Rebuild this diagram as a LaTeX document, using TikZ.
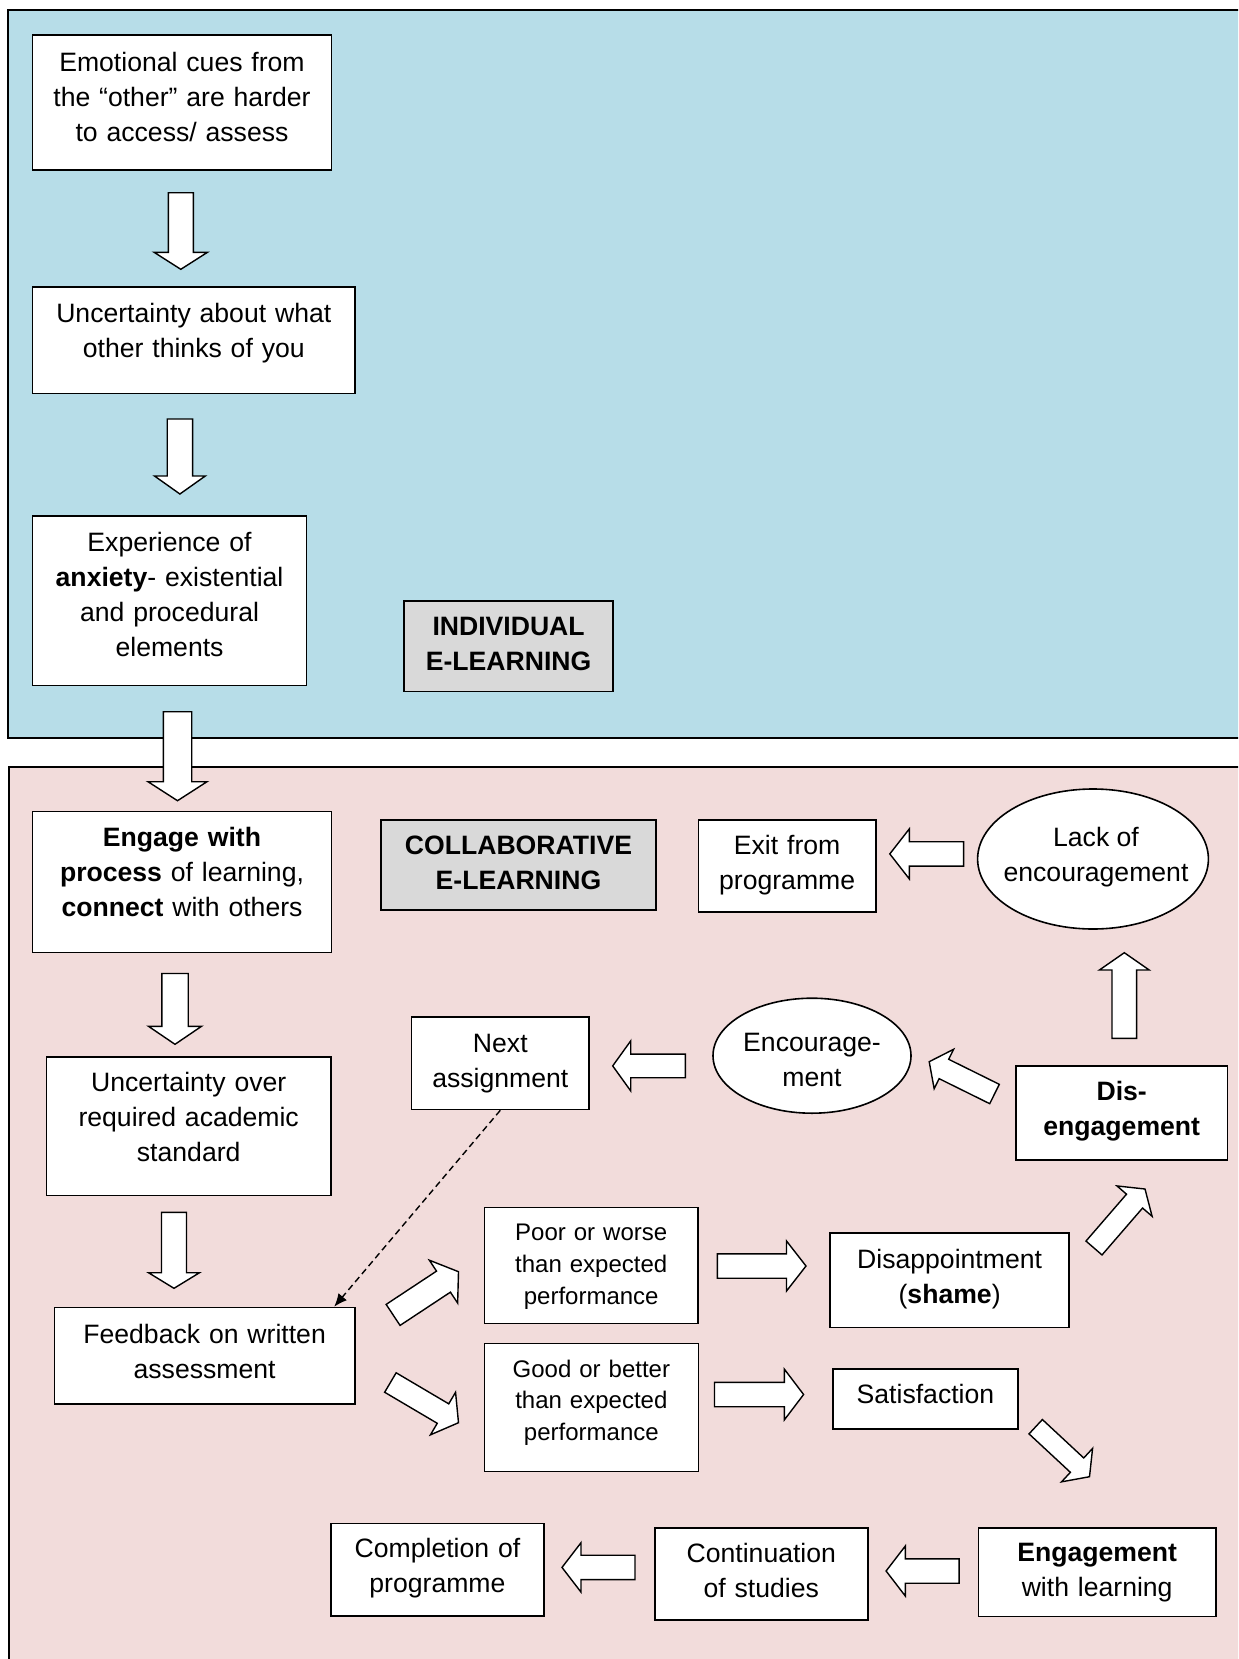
\documentclass[tikz,border=0pt]{standalone}
\usepackage{fontspec}
\setmainfont{Liberation Sans}
\usetikzlibrary{calc,shapes.geometric,arrows.meta}

\definecolor{panelBlue}{RGB}{183,221,232}
\definecolor{panelPink}{RGB}{242,220,219}
\definecolor{tagGray}{RGB}{217,217,217}

\newcommand{\bodyfont}{\fontsize{13.3}{17.5}\selectfont}
\newcommand{\smallbodyfont}{\fontsize{12}{15.9}\selectfont}

\tikzset{
  panel/.style={draw=black, line width=0.9pt},
  flowbox/.style={draw=black, fill=white, line width=0.8pt, inner sep=0pt,
    anchor=north west, align=center, font=\bodyfont},
  tagbox/.style={flowbox, fill=tagGray, font=\bodyfont\bfseries},
  ovalbox/.style={ellipse, draw=black, fill=white, line width=0.8pt, inner sep=0pt},
  ovaltext/.style={inner sep=0pt, align=center, font=\bodyfont},
  barrow/.style={draw=black, fill=white, line width=0.7pt, line join=miter},
  dashlink/.style={draw=black, line width=0.7pt, dash pattern=on 3.2pt off 2pt,
    -{Latex[length=6.5pt,width=5.5pt]}}
}

% box with its top-left and bottom-right corners in px, text hung from the top
% #1 options, #2 name, #3-#6 corners, #7 first-baseline drop (px), #8 text
\newcommand{\putbox}[8]{%
  \pgfmathsetmacro\bxw{(#5-#3)*0.5}%
  \pgfmathsetmacro\bxh{(#6-#4)*0.5}%
  \pgfmathsetmacro\bxt{#7*0.5}%
  \pgfmathsetmacro\bxd{\bxh-\bxt}%
  \node[flowbox, text width=\bxw pt, text height=\bxt pt, text depth=\bxd pt, #1]
    (#2) at (#3,#4) {#8};%
}

% hollow block arrow from a tail coordinate to a tip coordinate
% #3 shaft half-width, #4 head half-width, #5 head length (px)
\newcommand{\blockarrow}[5]{%
  \pgfmathsetmacro\bsw{#3*0.5}%
  \pgfmathsetmacro\bhw{#4*0.5}%
  \pgfmathsetmacro\bhl{#5*0.5}%
  \coordinate (#2-base) at ($(#2)!\bhl pt!(#1)$);
  \draw[barrow] ($(#1)!\bsw pt!90:(#2)$) -- ($(#2-base)!\bsw pt!90:(#2)$)
    -- ($(#2-base)!\bhw pt!90:(#2)$) -- (#2)
    -- ($(#2-base)!\bhw pt!-90:(#2)$) -- ($(#2-base)!\bsw pt!-90:(#2)$)
    -- ($(#1)!\bsw pt!-90:(#2)$) -- cycle;%
}

\begin{document}
\begin{tikzpicture}[x=0.5pt, y=-0.5pt]
\useasboundingbox (0,0) rectangle (1238,1659);
\clip (0,0) rectangle (1238,1659);

% the two panels run off the right and bottom edges
\draw[panel, fill=panelBlue] (8,10) rectangle (1260,738);
\draw[panel, fill=panelPink] (9,767) rectangle (1260,1680);

% ---------- individual e-learning ----------
\putbox{}{emo}{31.7}{34.3}{330.7}{169.3}{36.5}{Emotional cues from\\the “other” are harder\\to access/ assess}
\putbox{}{unc1}{31.7}{286}{354.3}{392.7}{35.7}{Uncertainty about what\\other thinks of you}
\putbox{}{anx}{31.7}{515.3}{305.8}{684.6}{35}{Experience of\\\textbf{anxiety}- existential\\and procedural\\elements}
\putbox{tagbox}{indiv}{403.3}{600}{612.3}{690.7}{35}{INDIVIDUAL\\E-LEARNING}

% ---------- collaborative e-learning ----------
\putbox{}{engage}{31.7}{810.7}{330.7}{951.7}{35}{\textbf{Engage with}\\\textbf{process} of learning,\\\textbf{connect} with others}
\putbox{tagbox}{collab}{380}{819.3}{655.3}{909.3}{34.7}{COLLABORATIVE\\E-LEARNING}
\putbox{}{exit}{697.7}{819.3}{875}{911}{34.7}{Exit from\\programme}
\node[ovalbox, minimum width=115.4pt, minimum height=70pt] (lack) at (1093,859) {};
\node[ovaltext] (lack-t) at ($(lack.center)+(3,-1.5)$) {Lack of\\encouragement};

\putbox{}{next}{410.7}{1016}{588.3}{1108.7}{35.7}{Next\\assignment}
\node[ovalbox, minimum width=99pt, minimum height=57.5pt] (enc) at (812,1055.7) {};
\node[ovaltext] (enc-t) at ($(enc.center)+(0,4.5)$) {Encourage-\\ment};
\putbox{}{dis}{1015}{1065}{1226.8}{1159}{35}{\textbf{Dis-}\\\textbf{engagement}}
\putbox{}{unc2}{45.5}{1056}{330.3}{1194.5}{35}{Uncertainty over\\required academic\\standard}

\putbox{}{fb}{53.6}{1306.7}{354}{1403.3}{36}{Feedback on written\\assessment}
\putbox{font=\smallbodyfont}{poor}{483.5}{1206.7}{697.3}{1322.7}{33.3}{Poor or worse\\than expected\\performance}
\putbox{font=\smallbodyfont}{good}{483.6}{1342.5}{697.5}{1470.7}{33.7}{Good or better\\than expected\\performance}
\putbox{}{disap}{829.3}{1232.3}{1068.3}{1326.7}{35}{Disappointment\\(\textbf{shame})}
\putbox{}{sat}{832.3}{1368}{1017}{1428.3}{34.3}{Satisfaction}

\putbox{}{eng}{977.6}{1527.3}{1215.1}{1615.7}{33}{\textbf{Engagement}\\with learning}
\putbox{}{cont}{654}{1527.3}{867}{1619.3}{34.3}{Continuation\\of studies}
\putbox{}{comp}{329.9}{1522.7}{543.4}{1615}{34}{Completion of\\programme}

% ---------- block arrows: tail and tip points ----------
\coordinate (a1s) at (180.8,192.7);   \coordinate (a1e) at (180.8,269.3);
\coordinate (a2s) at (179.9,419);     \coordinate (a2e) at (179.9,494);
\coordinate (a3s) at (177.5,711.7);   \coordinate (a3e) at (177.5,800.7);
\coordinate (a4s) at (175,973.5);     \coordinate (a4e) at (175,1044.3);
\coordinate (a5s) at (174,1212.3);    \coordinate (a5e) at (174,1288.3);
\coordinate (a6s) at (393.1,1314.9);  \coordinate (a6e) at (458.5,1271.7);
\coordinate (a7s) at (390.4,1382.5);  \coordinate (a7e) at (458.5,1422.7);
\coordinate (a8s) at (717.4,1266);    \coordinate (a8e) at (806,1266);
\coordinate (a9s) at (714.5,1394.5);  \coordinate (a9e) at (803.6,1394.5);
\coordinate (a10s) at (1094,1248);    \coordinate (a10e) at (1145,1189);
\coordinate (a11s) at (1035.7,1426.7);\coordinate (a11e) at (1089.5,1476.7);
\coordinate (a12s) at (959.1,1571);   \coordinate (a12e) at (886.1,1571);
\coordinate (a13s) at (635,1567.4);   \coordinate (a13e) at (562,1567.4);
\coordinate (a14s) at (994.5,1094);   \coordinate (a14e) at (929.2,1061.7);
\coordinate (a15s) at (1124.3,1038.3);\coordinate (a15e) at (1124.3,952.7);
\coordinate (a16s) at (963.6,853.9);  \coordinate (a16e) at (889.8,853.9);
\coordinate (a17s) at (685.3,1065.9); \coordinate (a17e) at (612.7,1065.9);

\blockarrow{a1s}{a1e}{12.5}{26.7}{17}
\blockarrow{a2s}{a2e}{12.7}{25.4}{18}
\blockarrow{a3s}{a3e}{14.2}{29.5}{19}
\blockarrow{a4s}{a4e}{13.2}{26.5}{18}
\blockarrow{a5s}{a5e}{12.5}{25.5}{15.6}
\blockarrow{a6s}{a6e}{12.6}{25.7}{18}
\blockarrow{a7s}{a7e}{11.3}{24.7}{18}
\blockarrow{a8s}{a8e}{12.2}{25}{19.5}
\blockarrow{a9s}{a9e}{12.2}{25.3}{19.2}
\blockarrow{a10s}{a10e}{10.6}{23.2}{16}
\blockarrow{a11s}{a11e}{9.8}{22.8}{17}
\blockarrow{a12s}{a12e}{12.2}{25}{19.2}
\blockarrow{a13s}{a13e}{12.2}{24.7}{19}
\blockarrow{a14s}{a14e}{10.8}{22}{16.4}
\blockarrow{a15s}{a15e}{12.3}{24.9}{17.3}
\blockarrow{a16s}{a16e}{12.2}{25}{19.5}
\blockarrow{a17s}{a17e}{11.8}{25}{18}

% dashed return path to the next round of feedback
\coordinate (fbtop) at ($(fb.north east)+(-21.4,0)$);
\draw[dashlink] (next.south) -- (fbtop);

\end{tikzpicture}
\end{document}
